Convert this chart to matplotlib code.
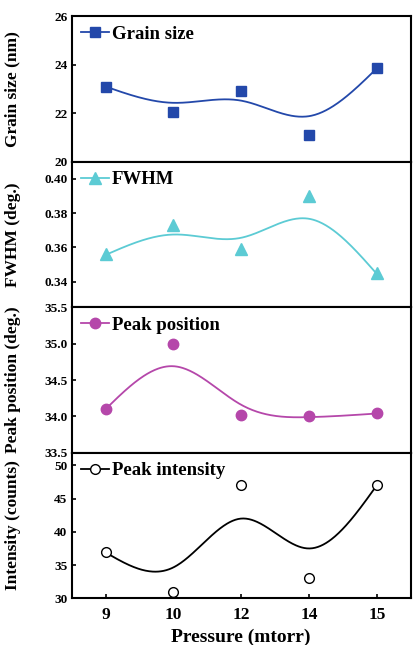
import numpy as np
import matplotlib
matplotlib.use("Agg")
import matplotlib.pyplot as plt

pressure_labels = ["9", "10", "12", "14", "15"]

grain_size = [23.1, 22.05, 22.9, 21.1, 23.85]
grain_fit = [23.1, 22.43, 22.52, 21.88, 23.85]

fwhm = [0.356, 0.373, 0.359, 0.390, 0.345]
fwhm_fit = [0.3556, 0.3675, 0.3656, 0.3767, 0.3445]

peak_pos = [34.1, 35.0, 34.02, 34.0, 34.05]
peak_pos_fit = [34.1, 34.69, 34.16, 33.99, 34.04]

intensity = [37, 31, 47, 33, 47]
intensity_fit = [36.9, 34.65, 42.0, 37.5, 47.0]


def natural_spline(x, y, xs):
    x = np.asarray(x, float); y = np.asarray(y, float)
    n = len(x)
    h = np.diff(x)
    A = np.zeros((n, n)); b = np.zeros(n)
    A[0, 0] = 1; A[-1, -1] = 1
    for i in range(1, n - 1):
        A[i, i - 1] = h[i - 1]
        A[i, i] = 2 * (h[i - 1] + h[i])
        A[i, i + 1] = h[i]
        b[i] = 3 * ((y[i + 1] - y[i]) / h[i] - (y[i] - y[i - 1]) / h[i - 1])
    c = np.linalg.solve(A, b)
    out = np.empty_like(xs)
    for k, xv in enumerate(xs):
        i = min(max(np.searchsorted(x, xv) - 1, 0), n - 2)
        dx = xv - x[i]
        bi = (y[i + 1] - y[i]) / h[i] - h[i] * (2 * c[i] + c[i + 1]) / 3
        di = (c[i + 1] - c[i]) / (3 * h[i])
        out[k] = y[i] + bi * dx + c[i] * dx ** 2 + di * dx ** 3
    return out


plt.rcParams['font.family'] = ['Liberation Serif', 'DejaVu Serif']
plt.rcParams['font.weight'] = 'bold'

fig = plt.figure(figsize=(4.18, 6.45), dpi=100)
left, width = 0.1715, 0.811
h = 0.2256
bottoms = [0.0724 + 3 * h, 0.0724 + 2 * h, 0.0724 + h, 0.0724]

xpos = np.arange(len(pressure_labels))
xs = np.linspace(0, 4, 300)

panels = [
    (grain_size, grain_fit, '#2348aa', 's', 'Grain size', 'Grain size (nm)', (20, 26), [20, 22, 24, 26], '{:.0f}', dict(markersize=7.5)),
    (fwhm, fwhm_fit, '#5ccbd4', '^', 'FWHM', 'FWHM (deg.)', (0.325, 0.41), [0.34, 0.36, 0.38, 0.40], '{:.2f}', dict(markersize=8)),
    (peak_pos, peak_pos_fit, '#b547aa', 'o', 'Peak position', 'Peak position (deg.)', (33.5, 35.5), [33.5, 34.0, 34.5, 35.0, 35.5], '{:.1f}', dict(markersize=7.5)),
    (intensity, intensity_fit, 'black', 'o', 'Peak intensity', 'Intensity (counts)', (30, 51.9), [30, 35, 40, 45, 50], '{:.0f}', dict(markersize=7, markerfacecolor='white', markeredgewidth=1.0)),
]

axes = []
for i, (vals, fit, color, marker, name, ylabel, ylim, yticks, fmt, mk) in enumerate(panels):
    ax = fig.add_axes([left, bottoms[i], width, h])
    axes.append(ax)
    ax.plot(xs, natural_spline(xpos, fit, xs), color=color, lw=1.3, zorder=2)
    ax.plot(xpos, vals, linestyle='none', marker=marker, color=color,
            markeredgecolor=color, zorder=3, **mk)
    ax.plot([], [], color=color, lw=1.3, marker=marker, label=name, **mk)
    ax.legend(loc='upper left', frameon=False, handlelength=1.5, handletextpad=0.15,
              borderaxespad=0.2, borderpad=0.3,
              prop=dict(family='Liberation Serif', weight='bold', size=13.5))
    ax.set_xlim(-0.5, 4.5)
    ax.set_ylim(*ylim)
    ax.set_yticks(yticks)
    ax.set_yticklabels([fmt.format(t) for t in yticks], fontsize=9.5, fontweight='bold')
    ax.set_ylabel(ylabel, fontsize=12.5, fontweight='bold')
    ax.yaxis.set_label_coords(-0.15, 0.5)
    ax.tick_params(axis='both', direction='in', length=3, width=1.2, pad=3)
    for s in ax.spines.values():
        s.set_linewidth(1.5)
    ax.set_xticks(xpos)
    if i < 3:
        ax.tick_params(axis='x', labelbottom=False, bottom=False)
    else:
        ax.set_xticklabels(pressure_labels, fontsize=12.5, fontweight='bold')
        ax.tick_params(axis='x', pad=6)
        ax.set_xlabel('Pressure (mtorr)', fontsize=14, fontweight='bold', labelpad=4)

fig.savefig('out.png', dpi=100)
